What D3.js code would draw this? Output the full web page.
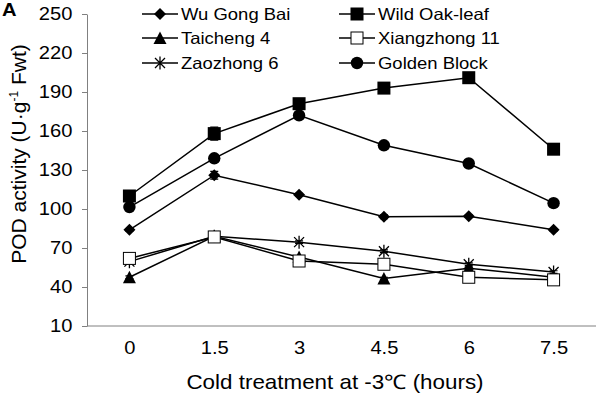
<!DOCTYPE html>
<html>
<head>
<meta charset="utf-8">
<script src="https://cdn.jsdelivr.net/npm/d3@7"></script>
<style>
  body { margin: 0; background: #fff; }
  svg { display: block; font-family: "Liberation Sans", Arial, sans-serif; }
</style>
</head>
<body>
<div id="chart"></div>
<script>
const hours = ["0", "1.5", "3", "4.5", "6", "7.5"];
const yTicks = [10, 40, 70, 100, 130, 160, 190, 220, 250];

const wuGongBai = [84, 126, 111, 94, 94.5, 84];
const wildOakLeaf = [110, 158, 181, 193, 201, 146];
const taicheng4 = [47.5, 79, 63, 46.5, 54.5, 47.5];
const xiangzhong11 = [62, 78.5, 60, 57.5, 47.5, 45.5];
const zaozhong6 = [59.5, 79, 74.5, 67.5, 57.5, 51.5];
const goldenBlock = [101.5, 139, 172, 149, 135, 104.5];

const wuGongBaiErr = [1, 3, 1, 1.5, 1, 1];
const wildOakLeafErr = [1.5, 5, 3, 1.5, 1, 1.5];
const taicheng4Err = [1, 1, 1, 1, 1, 1];
const xiangzhong11Err = [1, 1, 1, 1, 1, 1];
const zaozhong6Err = [1, 1, 1, 1, 1, 1];
const goldenBlockErr = [1, 1.5, 2, 1.5, 3, 1];

const series = [
  { name: "Wu Gong Bai", values: wuGongBai, err: wuGongBaiErr, marker: "diamond" },
  { name: "Wild Oak-leaf", values: wildOakLeaf, err: wildOakLeafErr, marker: "square" },
  { name: "Taicheng 4", values: taicheng4, err: taicheng4Err, marker: "triangle" },
  { name: "Xiangzhong 11", values: xiangzhong11, err: xiangzhong11Err, marker: "openSquare" },
  { name: "Zaozhong 6", values: zaozhong6, err: zaozhong6Err, marker: "star" },
  { name: "Golden Block", values: goldenBlock, err: goldenBlockErr, marker: "circle" }
];

const width = 600, height = 399;
const margin = { top: 14, right: 4, bottom: 73, left: 87 };
const stretch = 1.12; // the original lettering is a bit wide

const svg = d3.select("#chart").append("svg")
  .attr("width", width)
  .attr("height", height);

const x = d3.scalePoint()
  .domain(hours)
  .range([margin.left, width - margin.right])
  .padding(0.5);

const y = d3.scaleLinear()
  .domain([10, 250])
  .range([height - margin.bottom, margin.top]);

// axes
svg.append("g")
  .attr("transform", `translate(${margin.left},0)`)
  .call(d3.axisLeft(y).tickValues(yTicks).tickSize(5).tickSizeOuter(0).tickPadding(8))
  .call(g => g.select(".domain").attr("stroke", "#808080"))
  .call(g => g.selectAll(".tick line").attr("stroke", "#808080"))
  .call(g => g.selectAll(".tick text").attr("font-size", "18px").attr("fill", "#000")
    .attr("font-family", "Liberation Sans, Arial, sans-serif")
    .attr("transform", `scale(${stretch},1)`));

svg.append("g")
  .attr("transform", `translate(0,${height - margin.bottom})`)
  .call(d3.axisBottom(x).tickSize(0).tickPadding(15))
  .call(g => g.select(".domain").attr("stroke", "#808080")
    .attr("d", `M${margin.left},0H${width - margin.right}`))
  .call(g => g.selectAll(".tick text").attr("font-size", "18px").attr("fill", "#000")
    .attr("font-family", "Liberation Sans, Arial, sans-serif")
    .attr("transform", `scale(${stretch},1)`));

// titles
svg.append("text")
  .attr("transform", `translate(335,389) scale(${stretch},1)`)
  .attr("text-anchor", "middle")
  .attr("font-size", "20px")
  .text("Cold treatment at -3\u2103 (hours)");

const yTitle = svg.append("text")
  .attr("transform", "translate(26,154) rotate(-90)")
  .attr("text-anchor", "middle")
  .attr("font-size", "21px");
yTitle.append("tspan").text("POD activity (U\u00b7g");
yTitle.append("tspan").attr("font-size", "12px").attr("dy", "-8").text("-1");
yTitle.append("tspan").attr("dy", "8").text(" Fwt)");

svg.append("text")
  .attr("transform", `translate(2,16) scale(${stretch},1)`)
  .attr("font-size", "18px")
  .attr("font-weight", "bold")
  .text("A");

// marker drawing
function drawMarker(g, type) {
  if (type === "diamond") {
    g.append("path").attr("d", "M0,-6L6,0L0,6L-6,0Z").attr("fill", "#000");
  } else if (type === "square") {
    g.append("rect").attr("x", -6.5).attr("y", -6.5).attr("width", 13).attr("height", 13).attr("fill", "#000");
  } else if (type === "triangle") {
    g.append("path").attr("d", "M0,-6.5L6.5,6L-6.5,6Z").attr("fill", "#000");
  } else if (type === "openSquare") {
    g.append("rect").attr("x", -6).attr("y", -6).attr("width", 12).attr("height", 12)
      .attr("fill", "#fff").attr("stroke", "#000").attr("stroke-width", 1);
  } else if (type === "star") {
    g.append("path")
      .attr("d", "M-5,-5L5,5M-5,5L5,-5M0,-6.5V6.5")
      .attr("stroke", "#000").attr("stroke-width", 1.3).attr("fill", "none");
  } else if (type === "circle") {
    g.append("circle").attr("r", 6.2).attr("fill", "#000");
  }
}

const line = d3.line()
  .x((d, i) => x(hours[i]))
  .y(d => y(d));

// draw order so open squares sit on top of filled ones where they share points
const drawOrder = [1, 5, 0, 2, 4, 3];

drawOrder.forEach(k => {
  const s = series[k];
  svg.append("path")
    .datum(s.values)
    .attr("d", line)
    .attr("fill", "none")
    .attr("stroke", "#000")
    .attr("stroke-width", 1.5);
});

drawOrder.forEach(k => {
  const s = series[k];
  const pts = svg.append("g");
  s.values.forEach((v, i) => {
    const cx = x(hours[i]);
    const e = s.err[i];
    pts.append("path")
      .attr("d", `M${cx},${y(v - e)}V${y(v + e)}M${cx - 4},${y(v - e)}H${cx + 4}M${cx - 4},${y(v + e)}H${cx + 4}`)
      .attr("stroke", "#000")
      .attr("stroke-width", 1.2)
      .attr("fill", "none");
    const m = pts.append("g").attr("transform", `translate(${cx},${y(v)})`);
    drawMarker(m, s.marker);
  });
});

// legend
const legendCols = [142, 339];
const legendRows = [14, 38, 63];
series.forEach((s, i) => {
  const lx = legendCols[i % 2];
  const ly = legendRows[Math.floor(i / 2)];
  const lg = svg.append("g").attr("transform", `translate(${lx},${ly})`);
  lg.append("line").attr("x1", 0).attr("x2", 36).attr("y1", 0).attr("y2", 0)
    .attr("stroke", "#000").attr("stroke-width", 1.5);
  const m = lg.append("g").attr("transform", "translate(18,0)");
  drawMarker(m, s.marker);
  lg.append("text")
    .attr("transform", `translate(39,6) scale(${stretch},1)`)
    .attr("font-size", "16.5px")
    .text(s.name);
});
</script>
</body>
</html>
